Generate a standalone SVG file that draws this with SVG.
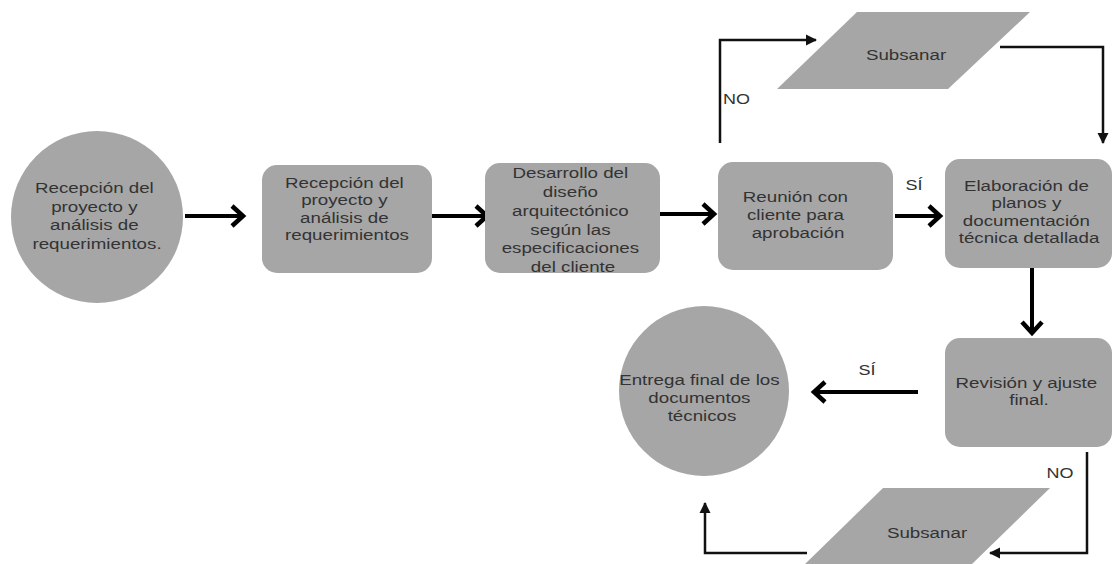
<svg xmlns="http://www.w3.org/2000/svg" width="1113" height="564" viewBox="0 0 1113 564">
  <style>
    .shape { fill: #a6a6a6; }
    .t { font-family: "Liberation Sans", Arial, sans-serif; font-size: 15px; fill: #333333; text-anchor: middle; }
    .lbl { font-family: "Liberation Sans", Arial, sans-serif; font-size: 15px; fill: #333333; }
    .main { fill: none; stroke: #000000; stroke-width: 4; marker-end: url(#chevron); }
    .loop { fill: none; stroke: #111111; stroke-width: 2.5; marker-end: url(#tri); }
  </style>
  <defs>
    <!-- open chevron head used on the thick flow arrows -->
    <marker id="chevron" markerUnits="userSpaceOnUse" viewBox="-16 -14 22 28" refX="0" refY="0" markerWidth="22" markerHeight="28" orient="auto">
      <path d="M-11,-10 L0,0 L-11,10" fill="none" stroke="#000000" stroke-width="4.5"/>
    </marker>
    <!-- small solid head used on the thin return connectors -->
    <marker id="tri" markerUnits="userSpaceOnUse" viewBox="-12 -7 14 14" refX="0" refY="0" markerWidth="14" markerHeight="14" orient="auto">
      <path d="M1,0 L-10,-5.5 L-10,5.5 Z" fill="#111111"/>
    </marker>
  </defs>

  <!-- connectors -->
  <g id="connectors">
    <path class="main" d="M185,216 H243"/>
    <path class="main" d="M432,216 H487"/>
    <path class="main" d="M660,214 H714"/>
    <path class="main" d="M895,216 H940"/>
    <path class="main" d="M1032,268 V333"/>
    <path class="main" d="M918,392 H814"/>
    <path class="loop" d="M720,143 V40 H816"/>
    <path class="loop" d="M1000,47 H1103 V143"/>
    <path class="loop" d="M1087,452 V553 H990"/>
    <path class="loop" d="M807,553 H705 V503"/>
    <text class="lbl" x="723" y="104" transform="translate(723 0) scale(1.2 1) translate(-723 0)">NO</text>
    <text class="t" transform="translate(914 0) scale(1.2 1)"><tspan x="0" y="190">SÍ</tspan></text>
    <text class="t" transform="translate(867 0) scale(1.2 1)"><tspan x="0" y="375">SÍ</tspan></text>
    <text class="t" transform="translate(1060 0) scale(1.2 1)"><tspan x="0" y="478">NO</tspan></text>
  </g>

  <g id="inicio">
    <circle class="shape" cx="97" cy="217" r="86"/>
    <text class="t" transform="translate(97 0) scale(1.25 1)">
      <tspan x="0" y="193">Recepción del</tspan>
      <tspan x="0" y="212">proyecto y</tspan>
      <tspan x="0" y="230">análisis de</tspan>
      <tspan x="0" y="249">requerimientos.</tspan>
    </text>
  </g>

  <g id="recepcion">
    <rect class="shape" x="262" y="165" width="170" height="108" rx="15"/>
    <text class="t" transform="translate(347 0) scale(1.25 1)">
      <tspan x="0" y="188">Recepción del</tspan>
      <tspan x="0" y="205.5">proyecto y</tspan>
      <tspan x="0" y="223">análisis de</tspan>
      <tspan x="0" y="240.5">requerimientos</tspan>
    </text>
  </g>

  <g id="desarrollo">
    <rect class="shape" x="485" y="163" width="175" height="110" rx="15"/>
    <text class="t" transform="translate(573 0) scale(1.25 1)">
      <tspan x="0" y="178">Desarrollo del</tspan>
      <tspan x="0" y="197">diseño</tspan>
      <tspan x="0" y="216">arquitectónico</tspan>
      <tspan x="0" y="235">según las</tspan>
      <tspan x="0" y="253.5">especificaciones</tspan>
      <tspan x="0" y="272">del cliente</tspan>
    </text>
  </g>

  <g id="reunion">
    <rect class="shape" x="718" y="162" width="175" height="108" rx="15"/>
    <text class="t" transform="translate(798 0) scale(1.25 1)">
      <tspan x="0" y="202">Reunión con</tspan>
      <tspan x="0" y="220">cliente para</tspan>
      <tspan x="0" y="238">aprobación</tspan>
    </text>
  </g>

  <g id="subsanar-1">
    <polygon class="shape" points="857,12 1030,12 948,89 777,89"/>
    <text class="t" transform="translate(906 0) scale(1.25 1)"><tspan x="0" y="60">Subsanar</tspan></text>
  </g>

  <g id="elaboracion">
    <rect class="shape" x="945" y="159" width="167" height="109" rx="15"/>
    <text class="t" transform="translate(1029 0) scale(1.25 1)">
      <tspan x="0" y="191">Elaboración de</tspan>
      <tspan x="0" y="208.5">planos y</tspan>
      <tspan x="0" y="226">documentación</tspan>
      <tspan x="0" y="243.5">técnica detallada</tspan>
    </text>
  </g>

  <g id="revision">
    <rect class="shape" x="945" y="338" width="167" height="109" rx="15"/>
    <text class="t" transform="translate(1029 0) scale(1.25 1)">
      <tspan x="0" y="388">Revisión y ajuste</tspan>
      <tspan x="0" y="405">final.</tspan>
    </text>
  </g>

  <g id="subsanar-2">
    <polygon class="shape" points="883,488 1050,488 970,566 803,566"/>
    <text class="t" transform="translate(927 0) scale(1.25 1)"><tspan x="0" y="538">Subsanar</tspan></text>
  </g>

  <g id="entrega">
    <circle class="shape" cx="704" cy="391" r="85"/>
    <text class="t" transform="translate(702 0) scale(1.25 1)">
      <tspan x="0" y="385">Entrega final de los</tspan>
      <tspan x="0" y="403">documentos</tspan>
      <tspan x="0" y="421">técnicos</tspan>
    </text>
  </g>
</svg>
